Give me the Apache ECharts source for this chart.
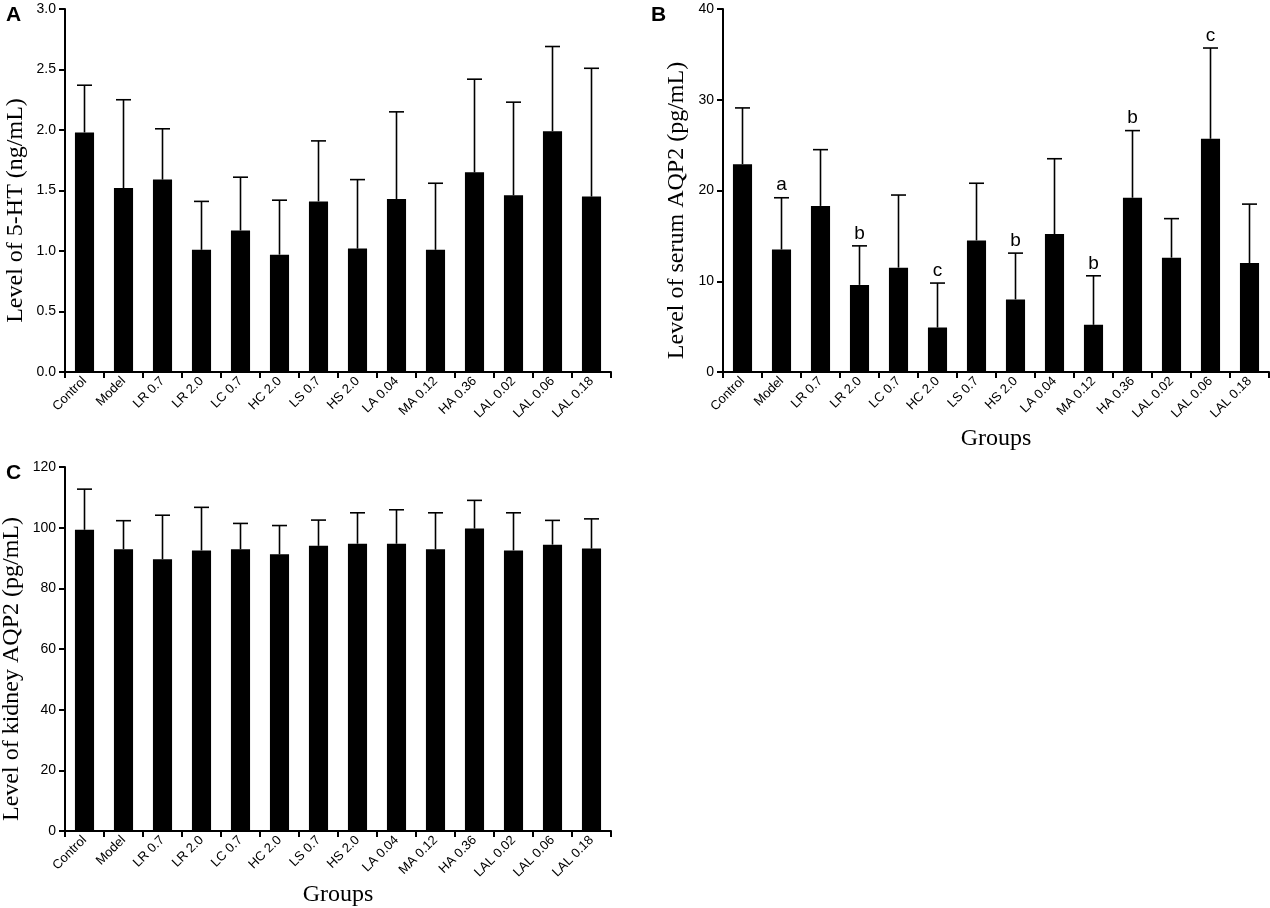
<!DOCTYPE html>
<html>
<head>
<meta charset="utf-8">
<script src="https://cdn.jsdelivr.net/npm/echarts@6/dist/echarts.min.js"></script>
<style>
  html, body { margin: 0; padding: 0; background: #fff; }
  #main { width: 1270px; height: 908px; }
</style>
</head>
<body>
<div id="main"></div>
<script>
// groups on the x axis (same for all three panels)
var groups = ['Control', 'Model', 'LR 0.7', 'LR 2.0', 'LC 0.7', 'HC 2.0', 'LS 0.7',
              'HS 2.0', 'LA 0.04', 'MA 0.12', 'HA 0.36', 'LAL 0.02', 'LAL 0.06', 'LAL 0.18'];

// A: serum 5-HT (ng/mL) - mean and mean+SD
var htMean = [1.98, 1.52, 1.59, 1.01, 1.17, 0.97, 1.41, 1.02, 1.43, 1.01, 1.65, 1.46, 1.99, 1.45];
var htTop  = [2.37, 2.25, 2.01, 1.41, 1.61, 1.42, 1.91, 1.59, 2.15, 1.56, 2.42, 2.23, 2.69, 2.51];

// B: serum AQP2 (pg/mL)
var serumMean = [22.9, 13.5, 18.3, 9.6, 11.5, 4.9, 14.5, 8.0, 15.2, 5.2, 19.2, 12.6, 25.7, 12.0];
var serumTop  = [29.1, 19.2, 24.5, 13.9, 19.5, 9.8, 20.8, 13.1, 23.5, 10.6, 26.6, 16.9, 35.7, 18.5];
var serumMarks = ['', 'a', '', 'b', '', 'c', '', 'b', '', 'b', 'b', '', 'c', ''];

// C: kidney AQP2 (pg/mL)
var kidneyMean = [99.3, 92.9, 89.6, 92.5, 92.9, 91.2, 94.0, 94.7, 94.7, 92.9, 99.7, 92.5, 94.4, 93.1];
var kidneyTop  = [112.7, 102.3, 104.1, 106.7, 101.4, 100.7, 102.5, 104.9, 105.9, 104.9, 109.0, 104.9, 102.4, 102.9];

var serif = 'Liberation Serif';
var sans = 'Liberation Sans';

function xAxisFor(idx, withName, gap) {
  return {
    type: 'category',
    gridIndex: idx,
    data: groups,
    name: withName ? 'Groups' : '',
    nameLocation: 'middle',
    nameGap: gap,
    nameTextStyle: { fontFamily: serif, fontSize: 24, color: '#000' },
    axisLine: { lineStyle: { color: '#000', width: 2 } },
    axisTick: { show: true, length: 6, lineStyle: { color: '#000', width: 2 } },
    axisLabel: { rotate: 45, margin: 7, interval: 0, color: '#000', fontFamily: sans, fontSize: 13 },
    splitLine: { show: false }
  };
}

function yAxisFor(idx, name, max, interval, decimals, gap) {
  return {
    type: 'value',
    gridIndex: idx,
    min: 0,
    max: max,
    interval: interval,
    name: name,
    nameLocation: 'middle',
    nameGap: gap,
    // extra padding at the text end pushes the title a little below the middle
    nameTextStyle: { fontFamily: serif, fontSize: 24, color: '#000', padding: [0, 40, 0, 0] },
    axisLine: { show: true, lineStyle: { color: '#000', width: 2 } },
    axisTick: { show: true, length: 6, lineStyle: { color: '#000', width: 2 } },
    axisLabel: {
      margin: 9, color: '#000', fontFamily: sans, fontSize: 14,
      formatter: function (v) { return v.toFixed(decimals); }
    },
    splitLine: { show: false }
  };
}

function barSeries(idx, values) {
  return {
    type: 'bar',
    xAxisIndex: idx,
    yAxisIndex: idx,
    data: values,
    barWidth: '49%',
    itemStyle: { color: '#000' },
    silent: true
  };
}

// error bar: line from bar top up to mean+SD with a cap, optional letter above
function errorSeries(idx, means, tops, marks) {
  var data = means.map(function (m, i) { return [i, m, tops[i], marks ? marks[i] : '']; });
  return {
    type: 'custom',
    xAxisIndex: idx,
    yAxisIndex: idx,
    data: data,
    silent: true,
    z: 5,
    renderItem: function (params, api) {
      var low = api.coord([api.value(0), api.value(1)]);
      var high = api.coord([api.value(0), api.value(2)]);
      var half = 7.5;
      var st = { stroke: '#000', lineWidth: 1.6 };
      var children = [
        { type: 'line', shape: { x1: low[0], y1: low[1], x2: high[0], y2: high[1] }, style: st },
        { type: 'line', shape: { x1: high[0] - half, y1: high[1], x2: high[0] + half, y2: high[1] }, style: st }
      ];
      var mk = api.value(3);
      if (mk) {
        children.push({
          type: 'text',
          style: {
            text: mk, x: high[0], y: high[1] - 3,
            textAlign: 'center', textVerticalAlign: 'bottom',
            font: '19px ' + sans, fill: '#000'
          }
        });
      }
      return { type: 'group', children: children };
    }
  };
}

var chart = echarts.init(document.getElementById('main'));
chart.setOption({
  animation: false,
  backgroundColor: '#fff',
  title: [
    { text: 'A', left: 1, top: 0, textStyle: { fontFamily: sans, fontWeight: 'bold', fontSize: 21, color: '#000' } },
    { text: 'B', left: 646, top: 0, textStyle: { fontFamily: sans, fontWeight: 'bold', fontSize: 21, color: '#000' } },
    { text: 'C', left: 1, top: 458, textStyle: { fontFamily: sans, fontWeight: 'bold', fontSize: 21, color: '#000' } }
  ],
  grid: [
    { left: 65, top: 9, width: 546, height: 363, outerBoundsMode: 'none' },
    { left: 723, top: 9, width: 546, height: 363, outerBoundsMode: 'none' },
    { left: 65, top: 467, width: 546, height: 364, outerBoundsMode: 'none' }
  ],
  xAxis: [xAxisFor(0, false, 60), xAxisFor(1, true, 55), xAxisFor(2, true, 52)],
  yAxis: [
    yAxisFor(0, 'Level of 5-HT (ng/mL)', 3, 0.5, 1, 37),
    yAxisFor(1, 'Level of serum AQP2 (pg/mL)', 40, 10, 0, 34),
    yAxisFor(2, 'Level of kidney AQP2 (pg/mL)', 120, 20, 0, 41)
  ],
  series: [
    barSeries(0, htMean), errorSeries(0, htMean, htTop),
    barSeries(1, serumMean), errorSeries(1, serumMean, serumTop, serumMarks),
    barSeries(2, kidneyMean), errorSeries(2, kidneyMean, kidneyTop)
  ]
});
</script>
</body>
</html>
